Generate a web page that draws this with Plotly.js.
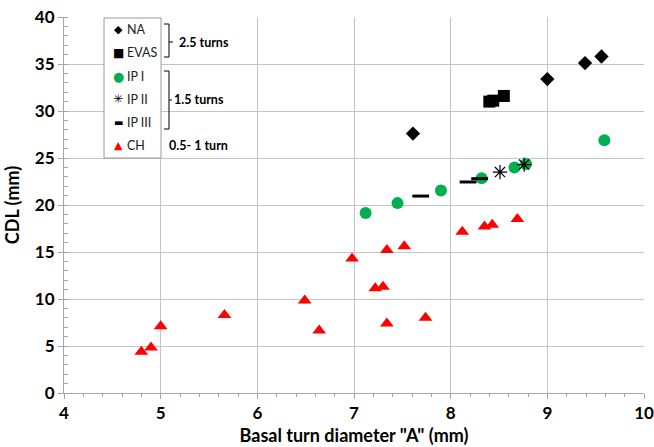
<!DOCTYPE html>
<html>
<head>
<meta charset="utf-8">
<script src="https://cdn.plot.ly/plotly-3.0.1.min.js"></script>
<style>html,body{margin:0;padding:0;background:#fff;}#chart{width:654px;height:447px;}</style>
</head>
<body>
<div id="chart"></div>
<script>
// ---- data ----
const NA_x = [7.61, 9.00, 9.39, 9.56];
const NA_y = [27.6, 33.4, 35.1, 35.8];
const EVAS_x = [8.40, 8.44, 8.55];
const EVAS_y = [31.0, 31.1, 31.6];
const IPI_x = [7.12, 7.45, 7.90, 8.32, 8.66, 8.78, 9.59];
const IPI_y = [19.15, 20.2, 21.55, 22.85, 24.0, 24.35, 26.9];
const IPII_x = [8.51, 8.76];
const IPII_y = [23.5, 24.3];
const IPIII_x = [7.69, 8.18, 8.30];
const IPIII_y = [20.95, 22.45, 22.8];
const CH_x = [4.80, 4.90, 5.00, 5.66, 6.49, 6.64, 6.98, 7.22, 7.30, 7.34, 7.34, 7.52, 7.74, 8.12, 8.35, 8.43, 8.69];
const CH_y = [4.4, 4.85, 7.1, 8.3, 9.85, 6.65, 14.3, 11.15, 11.3, 15.2, 7.4, 15.6, 8.0, 17.15, 17.7, 17.9, 18.5];

const legendNames = ["NA", "EVAS", "IP I", "IP II", "IP III", "CH"];
const xTicks = [4, 5, 6, 7, 8, 9, 10];
const yTicks = [0, 5, 10, 15, 20, 25, 30, 35, 40];

// ---- layout helpers ----
const M = {l: 64, r: 10, t: 17, b: 54};
const W = 654, H = 447;
const PW = W - M.l - M.r, PH = H - M.t - M.b;
const px = v => (v - M.l) / PW;
const py = v => (H - M.b - v) / PH;

const FONT = "Lato, 'Liberation Sans', sans-serif";
const GREEN = "#00b050", RED = "#ff0000";

const traces = [
  {x: NA_x, y: NA_y, name: legendNames[0], type: "scatter", mode: "markers",
   marker: {symbol: "diamond", size: 11, color: "#000"}},
  {x: EVAS_x, y: EVAS_y, name: legendNames[1], type: "scatter", mode: "markers",
   marker: {symbol: "square", size: 12, color: "#000"}},
  {x: IPI_x, y: IPI_y, name: legendNames[2], type: "scatter", mode: "markers",
   marker: {symbol: "circle", size: 12, color: GREEN}},
  {x: IPII_x, y: IPII_y, name: legendNames[3], type: "scatter", mode: "markers",
   marker: {symbol: "asterisk-open", size: 12, color: "#000", line: {color: "#000", width: 1.2}}},
  {x: IPIII_x, y: IPIII_y, name: legendNames[4], type: "scatter", mode: "markers",
   marker: {symbol: "line-ew-open", size: 12, color: "#000", line: {color: "#000", width: 3}}},
  {x: CH_x, y: CH_y, name: legendNames[5], type: "scatter", mode: "markers",
   marker: {symbol: "triangle-up", size: 12, color: RED}}
];

// custom legend (symbols as glyphs, labels as text)
const legY = [30, 53, 76, 99, 122, 145];
const legGlyph = ["\u25C6", "\u25A0", "\u25CF", "\u2733", "\u25AC", "\u25B2"];
const legColor = ["#000", "#000", GREEN, "#000", "#000", RED];
const legSize = [11, 12, 13, 12, 10, 11];
const annotations = [];
legendNames.forEach((n, i) => {
  annotations.push({xref: "paper", yref: "paper", x: px(118), y: py(legY[i]), text: legGlyph[i],
    showarrow: false, xanchor: "center", yanchor: "middle",
    font: {family: "DejaVu Sans", size: legSize[i], color: legColor[i]}});
  annotations.push({xref: "paper", yref: "paper", x: px(125), y: py(legY[i]), text: n,
    showarrow: false, xanchor: "left", yanchor: "middle",
    font: {family: FONT, size: 12.5, color: "#222"}});
});
annotations.push({xref: "paper", yref: "paper", x: px(177), y: py(42), text: "2.5 turns",
  showarrow: false, xanchor: "left", yanchor: "middle", font: {family: FONT, size: 12.5, color: "#000", weight: "bold"}});
annotations.push({xref: "paper", yref: "paper", x: px(172), y: py(100), text: "1.5 turns",
  showarrow: false, xanchor: "left", yanchor: "middle", font: {family: FONT, size: 12.5, color: "#000", weight: "bold"}});
annotations.push({xref: "paper", yref: "paper", x: px(167), y: py(145), text: "0.5- 1 turn",
  showarrow: false, xanchor: "left", yanchor: "middle", font: {family: FONT, size: 12.5, color: "#000", weight: "bold"}});

function pathStr(pts) {
  return pts.map((p, i) => (i ? "L" : "M") + px(p[0]).toFixed(5) + "," + py(p[1]).toFixed(5)).join(" ");
}
const shapes = [
  {type: "rect", xref: "paper", yref: "paper", x0: px(104), x1: px(161), y0: py(158), y1: py(18),
   fillcolor: "#fff", line: {color: "#9a9a9a", width: 1}, layer: "above"},
  {type: "path", xref: "paper", yref: "paper", layer: "above", line: {color: "#000", width: 1},
   path: pathStr([[164, 24], [169, 24], [169, 57], [164, 57]])},
  {type: "path", xref: "paper", yref: "paper", layer: "above", line: {color: "#000", width: 1},
   path: pathStr([[169, 42], [173, 42]])},
  {type: "path", xref: "paper", yref: "paper", layer: "above", line: {color: "#000", width: 1},
   path: pathStr([[164, 71], [169, 71], [169, 129], [164, 129]])},
  {type: "path", xref: "paper", yref: "paper", layer: "above", line: {color: "#000", width: 1},
   path: pathStr([[169, 100], [172, 100]])}
];

const axisCommon = {
  showgrid: true, gridcolor: "#c4c4c4", gridwidth: 1,
  showline: true, linecolor: "#a6a6a6", linewidth: 1,
  ticks: "outside", ticklen: 5, tickcolor: "#a6a6a6",
  zeroline: false, mirror: false, ticklabeloverflow: "allow",
  tickfont: {family: FONT, size: 17, color: "#000", weight: "bold"}
};

const layout = {
  width: W, height: H,
  margin: M,
  paper_bgcolor: "#fff", plot_bgcolor: "#fff",
  showlegend: false,
  xaxis: Object.assign({}, axisCommon, {
    range: [4, 10], tickmode: "array", tickvals: xTicks, ticktext: xTicks.map(String),
    minor: {dtick: 0.2, ticks: "outside", ticklen: 3, tickcolor: "#a6a6a6", showgrid: false},
    title: {text: "Basal turn diameter \"A\" (mm)", standoff: 6,
      font: {family: FONT, size: 18, color: "#000", weight: "bold"}}
  }),
  yaxis: Object.assign({}, axisCommon, {
    range: [0, 40], tickmode: "array", tickvals: yTicks, ticktext: yTicks.map(String),
    minor: {dtick: 1, ticks: "inside", ticklen: 4, tickcolor: "#a6a6a6", showgrid: false},
    title: {text: "CDL (mm)", standoff: 10,
      font: {family: FONT, size: 18, color: "#000", weight: "bold"}}
  }),
  shapes: shapes,
  annotations: annotations
};

Plotly.newPlot("chart", traces, layout, {displayModeBar: false, staticPlot: true});
</script>
</body>
</html>
